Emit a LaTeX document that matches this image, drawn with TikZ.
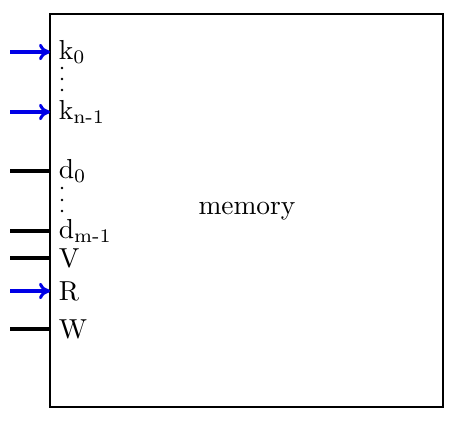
\documentclass[tikz,border=0pt]{standalone}
\usepackage{tikz}
\usetikzlibrary{arrows.meta,positioning}
\definecolor{keyblue}{RGB}{0,0,230}
\tikzset{
  wire/.style={line width=1.1pt},
  inport/.style={wire,keyblue,-{To[length=4pt,width=6pt]}},
  portlab/.style={anchor=west,inner sep=3pt},
  dot/.style={circle,fill,inner sep=0pt,minimum size=2.6},
}

\begin{document}
\begin{tikzpicture}[x=0.364pt,y=-0.364pt]
    \useasboundingbox (0,0) rectangle (462,422);
    % Memory block
    \coordinate (nw) at (50,14);
    \coordinate (se) at (443,407);
    \draw[semithick] (nw) rectangle (se);
    \node (mem) at (247,211) {memory};

    % Ports
    \foreach \y/\lab/\sty [count=\i] in {52/k\textsubscript{0}/inport, 112/k\textsubscript{n-1}/inport,
        171/d\textsubscript{0}/wire, 231/d\textsubscript{m-1}/wire, 258/V/wire, 291/R/inport, 329/W/wire} {
      \coordinate (p\i) at (50,\y);
      \coordinate (s\i) at (10,\y);
      \draw[\sty] (s\i) -- (p\i);
      \node[portlab] (l\i) at (p\i) {\lab};
    }

    % Dots
    \foreach \y in {68,79,90,188,200,211}
      \fill (62,\y) circle[radius=1.3];
\end{tikzpicture}
\end{document}
